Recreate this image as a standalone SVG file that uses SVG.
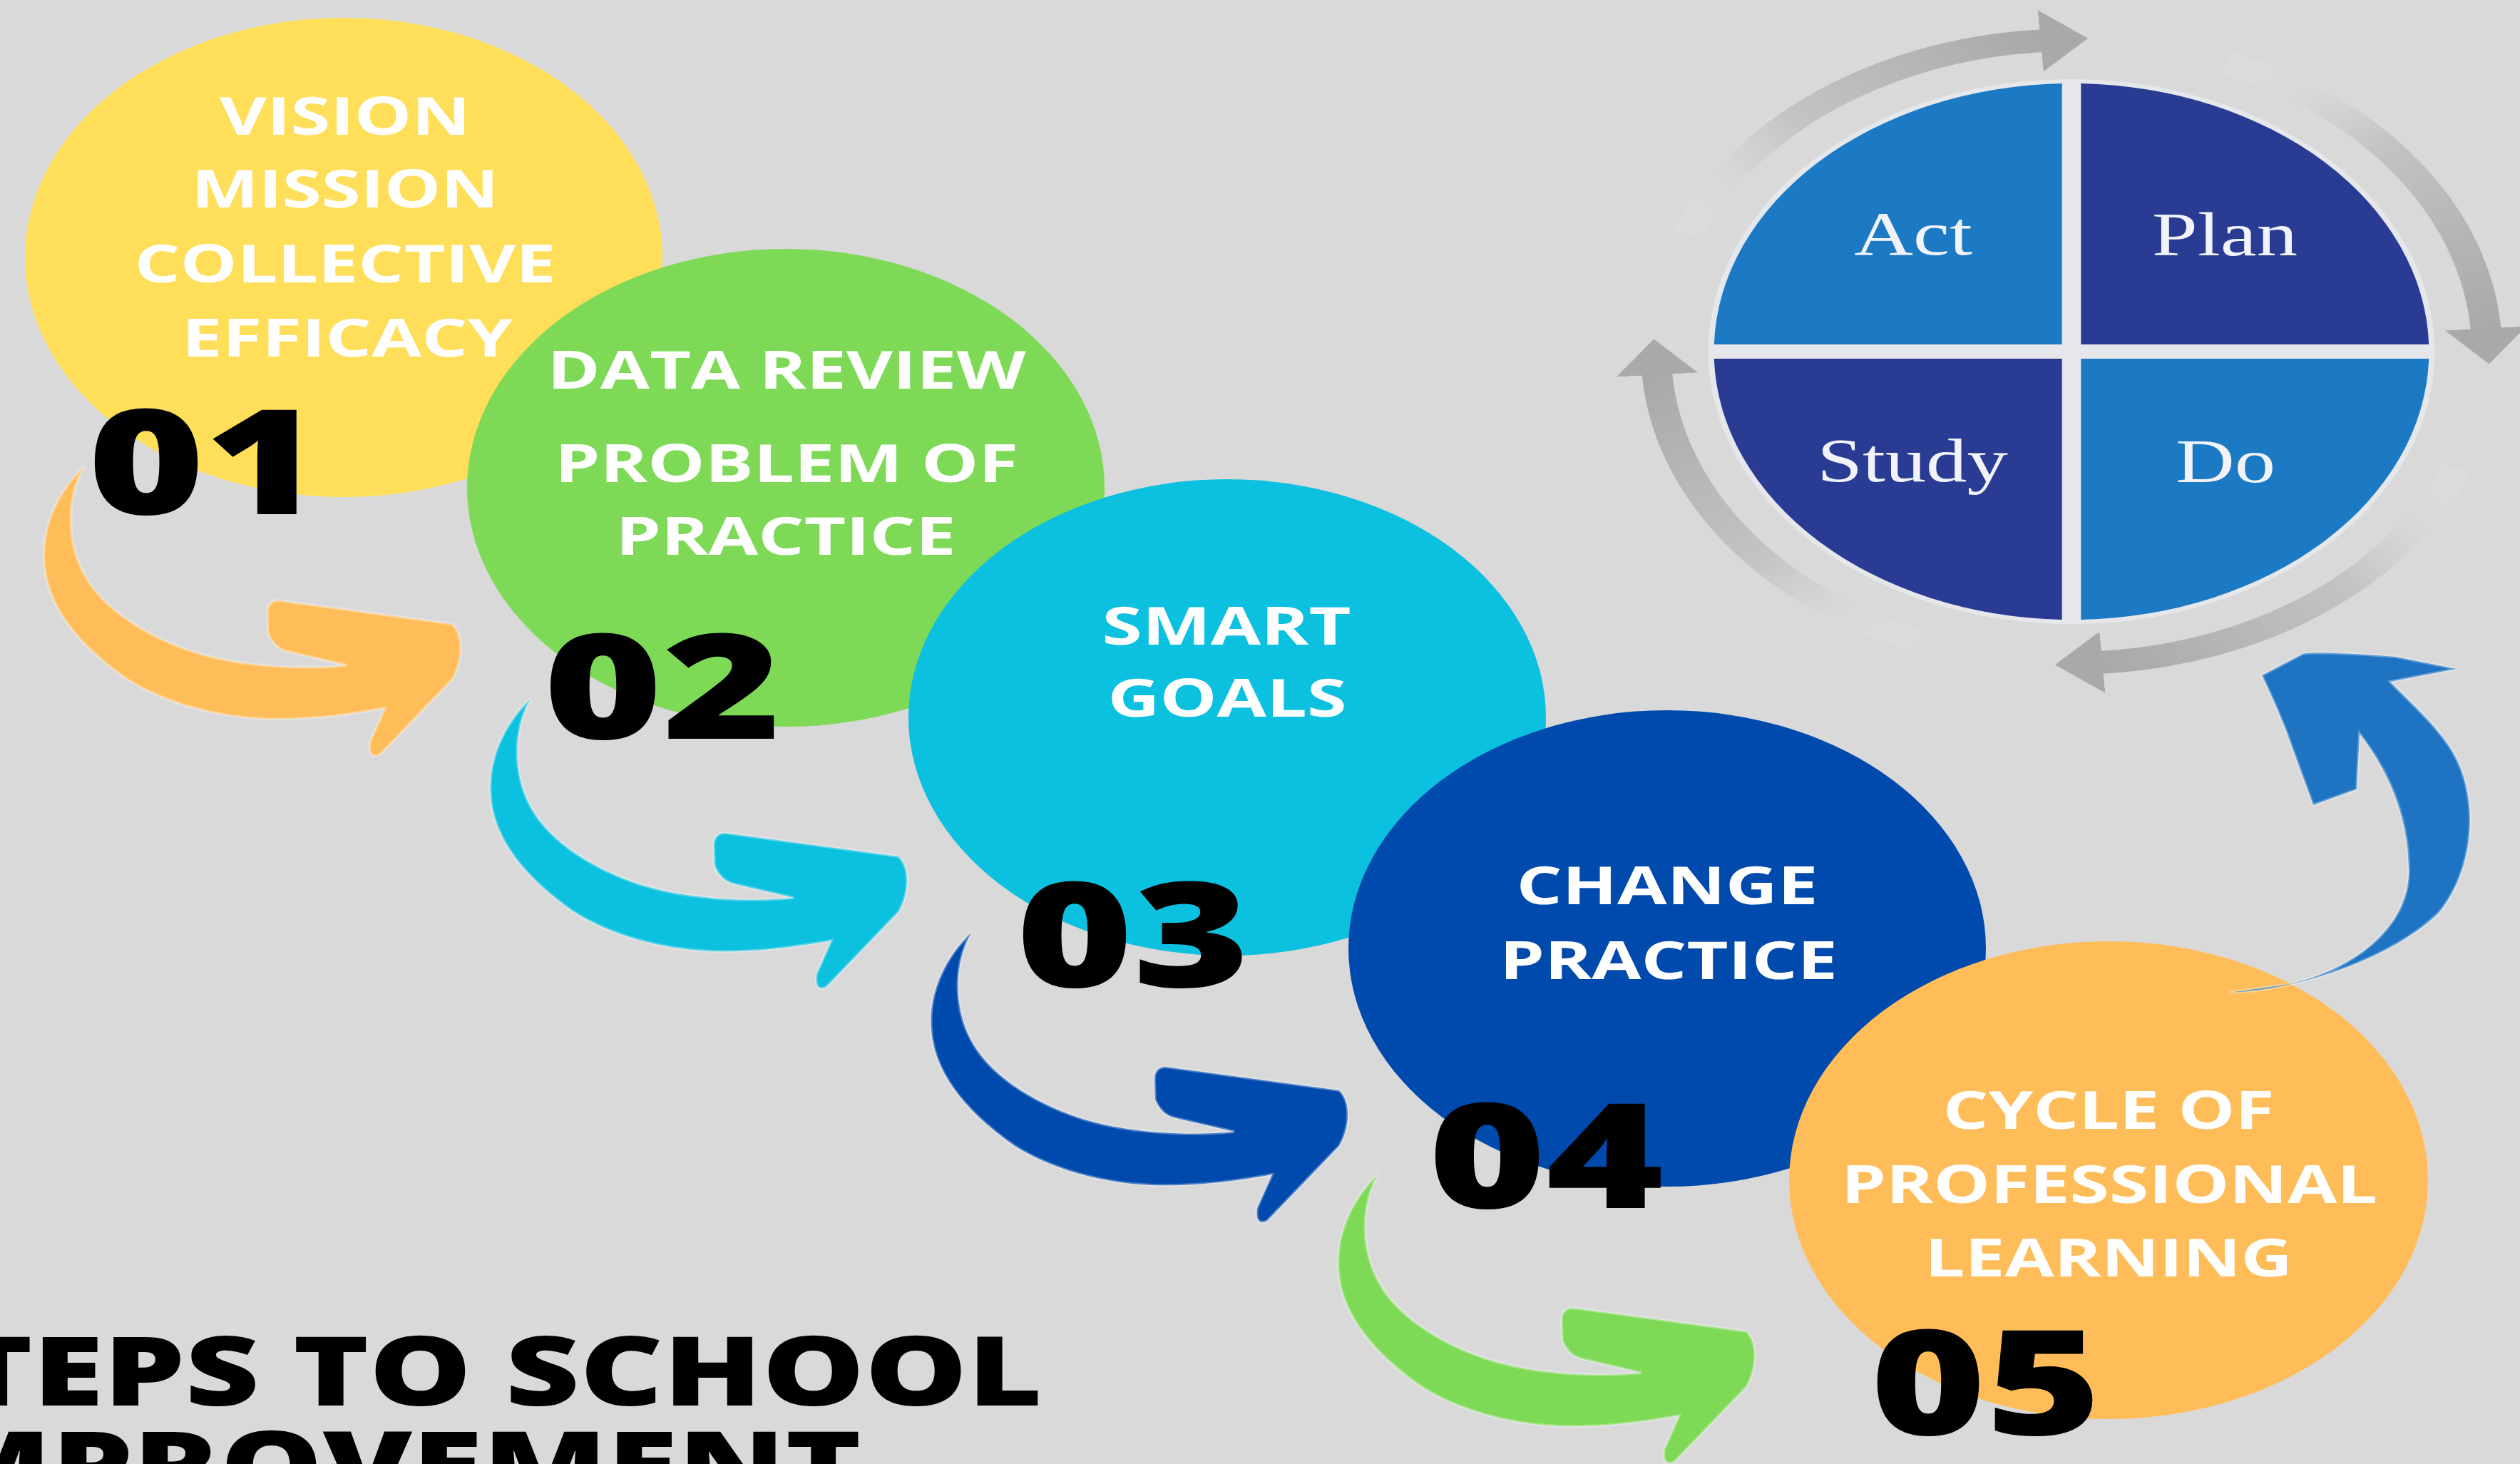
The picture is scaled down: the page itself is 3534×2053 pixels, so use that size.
<svg xmlns="http://www.w3.org/2000/svg" width="3534" height="2053" viewBox="0 0 3534 2053">
<defs>
<style>
.lbl{font-family:'Open Sans','Liberation Sans',sans-serif;font-weight:700;font-size:74px;fill:#FFFFFF;text-anchor:middle}
.num{font-family:'Open Sans','Liberation Sans',sans-serif;font-weight:800;font-size:205px;fill:#000000}
.title{font-family:'Open Sans','Liberation Sans',sans-serif;font-weight:800;font-size:135px;fill:#000000}
.pdca{font-family:'Liberation Serif','Times New Roman',serif;font-size:86px;fill:#F1F3F8;text-anchor:middle}
.ring{fill:none;stroke-width:32;marker-end:url(#ringHead)}
.step{stroke:#FFFFFF;stroke-opacity:0.3;stroke-width:4}
</style>
<path id="stepArrow" d="M118,654 C80,690 58,740 62,790 C66,850 110,905 179,953 C230,985 300,1005 371,1008 C440,1010 500,1000 540,993 L519,1040 Q516,1066 533,1058 L634,953 C650,925 650,890 634,875 L390,842 Q374,843 375,862 L376,888 Q385,910 405,914 L487,933 C420,940 330,934 268,913 C200,890 140,850 116,801 C95,760 92,700 118,654 Z"/>
<marker id="ringHead" markerUnits="userSpaceOnUse" viewBox="-2 -45 52 90" markerWidth="52" markerHeight="90" refX="0" refY="0" orient="auto">
<path d="M-2,-43 L48,0 L-2,43 Z" fill="#A9A9A9"/>
</marker>
<linearGradient id="gTop" gradientUnits="userSpaceOnUse" x1="-405.2" y1="-163.7" x2="-30.5" y2="-435.9"><stop offset="0" stop-color="#E6E6E6" stop-opacity="0.2"/><stop offset="0.4" stop-color="#C4C4C4"/><stop offset="1" stop-color="#A9A9A9"/></linearGradient>
<linearGradient id="gRight" gradientUnits="userSpaceOnUse" x1="163.7" y1="-405.2" x2="435.9" y2="-30.5"><stop offset="0" stop-color="#E6E6E6" stop-opacity="0.2"/><stop offset="0.4" stop-color="#C4C4C4"/><stop offset="1" stop-color="#A9A9A9"/></linearGradient>
<linearGradient id="gBottom" gradientUnits="userSpaceOnUse" x1="405.2" y1="163.7" x2="30.5" y2="435.9"><stop offset="0" stop-color="#E6E6E6" stop-opacity="0.2"/><stop offset="0.4" stop-color="#C4C4C4"/><stop offset="1" stop-color="#A9A9A9"/></linearGradient>
<linearGradient id="gLeft" gradientUnits="userSpaceOnUse" x1="-163.7" y1="405.2" x2="-435.9" y2="30.5"><stop offset="0" stop-color="#E6E6E6" stop-opacity="0.2"/><stop offset="0.4" stop-color="#C4C4C4"/><stop offset="1" stop-color="#A9A9A9"/></linearGradient>
</defs>

<rect x="0" y="0" width="3534" height="2053" fill="#D9D9D9"/>

<g id="nodes">
  <g id="step1">
    <ellipse cx="482" cy="361" rx="447" ry="336" fill="#FFDE59"/>
    <text class="lbl" x="484" y="189" textLength="352" lengthAdjust="spacingAndGlyphs">VISION</text>
    <text class="lbl" x="484" y="291" textLength="431" lengthAdjust="spacingAndGlyphs">MISSION</text>
    <text class="lbl" x="484" y="396" textLength="591" lengthAdjust="spacingAndGlyphs">COLLECTIVE</text>
    <text class="lbl" x="487" y="500" textLength="464" lengthAdjust="spacingAndGlyphs">EFFICACY</text>
    <text class="num" x="123" y="721" textLength="328" lengthAdjust="spacingAndGlyphs">01</text>
  </g>
  <g id="step2">
    <ellipse cx="1102" cy="684" rx="447" ry="335" fill="#7ED957"/>
    <text class="lbl" x="1103" y="545" textLength="671" lengthAdjust="spacingAndGlyphs">DATA REVIEW</text>
    <text class="lbl" x="1103" y="676" textLength="650" lengthAdjust="spacingAndGlyphs">PROBLEM OF</text>
    <text class="lbl" x="1102" y="778" textLength="477" lengthAdjust="spacingAndGlyphs">PRACTICE</text>
    <text class="num" x="762" y="1036" textLength="334" lengthAdjust="spacingAndGlyphs">02</text>
  </g>
  <g id="step3">
    <ellipse cx="1721" cy="1006" rx="447" ry="334" fill="#0CC0DF"/>
    <text class="lbl" x="1720" y="904" textLength="349" lengthAdjust="spacingAndGlyphs">SMART</text>
    <text class="lbl" x="1721" y="1005" textLength="335" lengthAdjust="spacingAndGlyphs">GOALS</text>
    <text class="num" x="1425" y="1384" textLength="328" lengthAdjust="spacingAndGlyphs">03</text>
  </g>
  <g id="step4">
    <ellipse cx="2338" cy="1330" rx="447" ry="334" fill="#004AAD"/>
    <text class="lbl" x="2338" y="1268" textLength="423" lengthAdjust="spacingAndGlyphs">CHANGE</text>
    <text class="lbl" x="2340" y="1373" textLength="474" lengthAdjust="spacingAndGlyphs">PRACTICE</text>
    <text class="num" x="2003" y="1694" textLength="330" lengthAdjust="spacingAndGlyphs">04</text>
  </g>
  <g id="step5">
    <ellipse cx="2957" cy="1655" rx="448" ry="335" fill="#FFBD59"/>
    <text class="lbl" x="2957" y="1583" textLength="465" lengthAdjust="spacingAndGlyphs">CYCLE OF</text>
    <text class="lbl" x="2958" y="1687" textLength="752" lengthAdjust="spacingAndGlyphs">PROFESSIONAL</text>
    <text class="lbl" x="2957" y="1790" textLength="516" lengthAdjust="spacingAndGlyphs">LEARNING</text>
    <text class="num" x="2623" y="2012" textLength="324" lengthAdjust="spacingAndGlyphs">05</text>
  </g>
  <g id="pdca" transform="translate(2905,493) scale(1.3333,1)">
    <circle cx="0" cy="0" r="382" fill="#E5E7EB"/>
    <g id="act">
      <path d="M-10,-10 L-10,-375.9 A376,376 0 0 0 -375.9,-10 Z" fill="#1C7AC5"/>
      <text class="pdca" x="-166.5" y="-136">Act</text>
    </g>
    <g id="plan">
      <path d="M10,-10 L10,-375.9 A376,376 0 0 1 375.9,-10 Z" fill="#2A3B93"/>
      <text class="pdca" x="161.3" y="-135">Plan</text>
    </g>
    <g id="study">
      <path d="M-10,10 L-10,375.9 A376,376 0 0 1 -375.9,10 Z" fill="#2A3B93"/>
      <text class="pdca" x="-167.3" y="182">Study</text>
    </g>
    <g id="do">
      <path d="M10,10 L10,375.9 A376,376 0 0 0 375.9,10 Z" fill="#1C7AC5"/>
      <text class="pdca" x="162" y="183">Do</text>
    </g>
  </g>
  <g id="title">
    <text class="title" x="-165" y="1971" textLength="1627" lengthAdjust="spacingAndGlyphs">STEPS TO SCHOOL</text>
    <text class="title" x="-165" y="2104" textLength="1373" lengthAdjust="spacingAndGlyphs">IMPROVEMENT</text>
  </g>
</g>

<g id="connectors">
  <use href="#stepArrow" class="step" fill="#FFBD59"/>
  <use href="#stepArrow" class="step" transform="translate(626,326)" fill="#0CC0DF"/>
  <use href="#stepArrow" class="step" transform="translate(1244,654)" fill="#004AAD"/>
  <use href="#stepArrow" class="step" transform="translate(1815,992)" fill="#7ED957"/>
  <path id="to-pdca" class="step" fill="#1E74C2" d="M3127,1392 C3230,1388 3360,1340 3420,1280 C3470,1220 3478,1120 3440,1055 C3420,1020 3380,985 3352,956 L3445,938 L3360,921 C3300,916 3240,914 3229,917 L3172,947 C3190,985 3205,1020 3215,1050 L3244,1129 L3305,1107 L3309,1029 C3345,1075 3378,1140 3378,1222 C3378,1300 3300,1360 3211,1380 Z"/>
  <g id="pdca-cycle" transform="translate(2905,493) scale(1.3333,1)">
    <path class="ring" stroke="url(#gTop)" d="M-405.2,-163.7 A437,437 0 0 1 -30.5,-435.9"/>
    <path class="ring" stroke="url(#gRight)" d="M163.7,-405.2 A437,437 0 0 1 435.9,-30.5"/>
    <path class="ring" stroke="url(#gBottom)" d="M405.2,163.7 A437,437 0 0 1 30.5,435.9"/>
    <path class="ring" stroke="url(#gLeft)" d="M-163.7,405.2 A437,437 0 0 1 -435.9,30.5"/>
  </g>
</g>
</svg>
